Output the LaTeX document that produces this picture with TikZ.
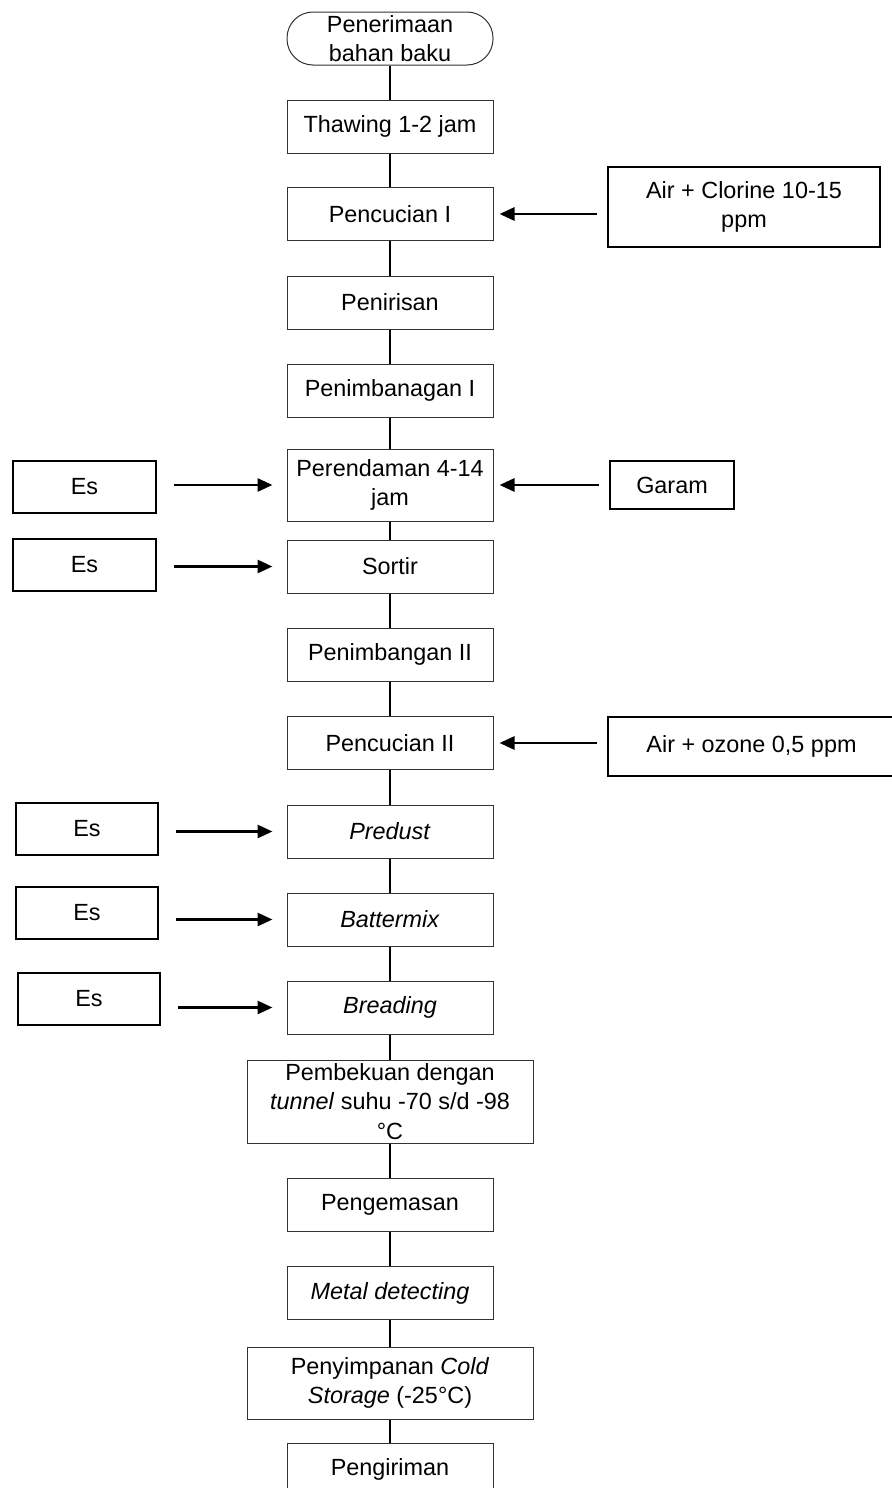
\documentclass[tikz,border=0pt]{standalone}
\usepackage{fontspec}
\setmainfont{Liberation Sans}
\usetikzlibrary{arrows.meta}
\tikzset{
  proses/.style={draw=black!80, line width=0.5pt, minimum width=103pt, minimum height=26.5pt, align=center, inner sep=1pt},
  bahan/.style={draw, line width=0.9pt, align=center, inner sep=1pt},
  alur/.style={line width=0.8pt},
  masuk/.style={line width=1.4pt, -{Triangle[length=7.5pt,width=6.5pt]}}
}

\begin{document}
\begin{tikzpicture}[x=0.5pt, y=-0.5pt, font=\fontsize{11.7}{14.7}\selectfont]
      \useasboundingbox (0,0) rectangle (892,1488);
      \node[proses, rounded corners=13pt] (start) at (390,38.5) {Penerimaan\\bahan baku};
      \node[proses] (thaw) at (390,126.5) {Thawing 1-2 jam};
      \node[proses] (cuci1) at (390,214) {Pencucian I};
      \node[proses] (tiris) at (390,302.5) {Penirisan};
      \node[proses] (timbang1) at (390,390.5) {Penimbanagan I};
      \node[proses, minimum height=36pt] (rendam) at (390,485) {Perendaman 4-14\\jam};
      \node[proses] (sortir) at (390,566.5) {Sortir};
      \node[proses] (timbang2) at (390,654.5) {Penimbangan II};
      \node[proses] (cuci2) at (390,743) {Pencucian II};
      \node[proses] (predust) at (390,831.5) {\textit{Predust}};
      \node[proses] (batter) at (390,919.5) {\textit{Battermix}};
      \node[proses] (breading) at (390,1007.5) {\textit{Breading}};
      \node[proses, minimum width=143pt, minimum height=41.5pt] (beku) at (390,1101.5)
        {Pembekuan dengan\\\textit{tunnel} suhu -70 s/d -98\\°C};
      \node[proses] (kemas) at (390,1204.5) {Pengemasan};
      \node[proses] (metal) at (390,1293) {\textit{Metal detecting}};
      \node[proses, minimum width=143pt, minimum height=36pt] (simpan) at (390,1383)
        {Penyimpanan \textit{Cold}\\\textit{Storage} (-25°C)};
      \node[proses] (kirim) at (390,1469.5) {Pengiriman};

      \node[bahan, minimum width=136pt, minimum height=40pt] (clorine) at (744,207) {Air + Clorine 10-15\\ppm};
      \node[bahan, minimum width=62pt, minimum height=24pt] (garam) at (672,485) {Garam};
      \node[bahan, minimum width=143.5pt, minimum height=29.5pt] (ozone) at (751.5,746.5) {Air + ozone 0,5 ppm};
      \node[bahan, minimum width=71.5pt, minimum height=26pt] (es1) at (84.5,487) {Es};
      \node[bahan, minimum width=71.5pt, minimum height=26pt] (es2) at (84.5,565) {Es};
      \node[bahan, minimum width=71pt, minimum height=26pt] (es3) at (87,829) {Es};
      \node[bahan, minimum width=71pt, minimum height=26pt] (es4) at (87,913) {Es};
      \node[bahan, minimum width=71pt, minimum height=26pt] (es5) at (89,999) {Es};

      \foreach \a/\b in {start/thaw, thaw/cuci1, cuci1/tiris, tiris/timbang1, timbang1/rendam,
          rendam/sortir, sortir/timbang2, timbang2/cuci2, cuci2/predust, predust/batter,
          batter/breading, breading/beku, beku/kemas, kemas/metal, metal/simpan, simpan/kirim}
        \draw[alur] (\a) -- (\b);

      \foreach \s/\t in {clorine/cuci1, garam/rendam, ozone/cuci2}
        \draw[masuk, shorten <=5pt, shorten >=3pt] (\s.west |- \t.east) -- (\t.east);
      \foreach \s/\t in {es1/rendam, es2/sortir, es3/predust, es4/batter, es5/breading}
        \draw[masuk, shorten <=8.5pt, shorten >=7pt] (\s.east |- \t.west) -- (\t.west);
    \end{tikzpicture}
\end{document}
